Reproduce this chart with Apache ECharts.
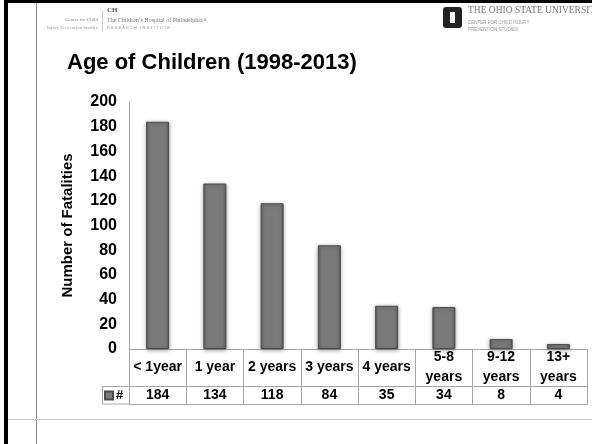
<!DOCTYPE html>
<html>
<head>
<meta charset="utf-8">
<script src="https://cdn.jsdelivr.net/npm/echarts@6/dist/echarts.min.js"></script>
<style>
html,body{margin:0;padding:0;background:#fff;}
#chart{width:592px;height:444px;}
</style>
</head>
<body>
<div id="chart"></div>
<script>
const categories = ['< 1year', '1 year', '2 years', '3 years', '4 years', '5-8\nyears', '9-12\nyears', '13+\nyears'];
const fatalities = [184, 134, 118, 84, 35, 34, 8, 4];
const seriesName = '#';
const yTicks = { min: 0, max: 200, interval: 20 };

const chart = echarts.init(document.getElementById('chart'), null, { renderer: 'canvas' });
const F = 'Arial, "Liberation Sans", sans-serif';
const lineC = '#a6a6a6';

const option = {
  backgroundColor: '#ffffff',
  animation: false,
  title: {
    text: 'Age of Children (1998-2013)',
    left: 62, top: 47,
    textStyle: { fontFamily: F, fontWeight: 'bold', fontSize: 22, color: '#000' }
  },
  legend: {
    data: [seriesName],
    left: 104, top: 389,
    icon: 'rect', itemWidth: 8, itemHeight: 8, itemGap: 2,
    padding: 0,
    textStyle: { fontFamily: F, fontWeight: 'bold', fontSize: 13, color: '#000', padding: [0, 0, 0, -2] },
    selectedMode: false
  },
  grid: { left: 129, right: 5, top: 102, bottom: 95, containLabel: false },
  xAxis: [
    {
      type: 'category', data: categories, position: 'bottom',
      axisLine: { show: true, lineStyle: { color: lineC, width: 1 } },
      axisTick: { show: true, length: 55, lineStyle: { color: lineC } },
      axisLabel: {
        fontFamily: F, fontWeight: 'bold', fontSize: 14, color: '#000',
        lineHeight: 20, verticalAlign: 'middle', margin: 18, interval: 0
      }
    },
    {
      type: 'category', data: fatalities.map(String), position: 'bottom', offset: 37,
      axisLine: { show: true, lineStyle: { color: lineC, width: 1 } },
      axisTick: { show: false },
      axisLabel: {
        fontFamily: F, fontWeight: 'bold', fontSize: 14, color: '#000',
        verticalAlign: 'middle', margin: 9, interval: 0
      }
    },
    {
      type: 'category', data: categories, position: 'bottom', offset: 55,
      axisLine: { show: true, lineStyle: { color: lineC, width: 1 } },
      axisTick: { show: false },
      axisLabel: { show: false }
    }
  ],
  yAxis: {
    type: 'value', min: yTicks.min, max: yTicks.max, interval: yTicks.interval,
    name: 'Number of Fatalities', nameLocation: 'middle', nameGap: 54, nameRotate: 90,
    nameTextStyle: { fontFamily: F, fontWeight: 'bold', fontSize: 15, color: '#000' },
    axisLine: { show: true, lineStyle: { color: lineC, width: 1 } },
    axisTick: { show: false },
    splitLine: { show: false },
    axisLabel: { fontFamily: F, fontWeight: 'bold', fontSize: 16, color: '#000', margin: 12 }
  },
  series: [{
    name: seriesName, type: 'bar', data: fatalities, barWidth: 23,
    xAxisIndex: 0,
    itemStyle: {
      color: new echarts.graphic.LinearGradient(0, 0, 1, 0, [
        { offset: 0, color: '#5f5f5f' },
        { offset: 0.15, color: '#7a7a7a' },
        { offset: 0.85, color: '#7a7a7a' },
        { offset: 1, color: '#5f5f5f' }
      ]),
      borderColor: '#4a4a4a', borderWidth: 1,
      shadowColor: 'rgba(0,0,0,0.35)', shadowBlur: 4, shadowOffsetY: 1
    }
  }],
  graphic: [
    // slide frame
    { type: 'rect', shape: { x: 4, y: 0, width: 588, height: 3 }, style: { fill: '#000' }, z: 10 },
    { type: 'rect', shape: { x: 4, y: 0, width: 4, height: 444 }, style: { fill: '#000' }, z: 10 },
    { type: 'line', shape: { x1: 36.5, y1: 3, x2: 36.5, y2: 444 }, style: { stroke: '#888', lineWidth: 1 } },
    { type: 'line', shape: { x1: 8, y1: 419.5, x2: 592, y2: 419.5 }, style: { stroke: '#d0d0d0', lineWidth: 1 } },
    // table key cell
    { type: 'rect', shape: { x: 102.5, y: 386.5, width: 27, height: 17.5 }, style: { fill: 'none', stroke: lineC, lineWidth: 1 } },
    // left header logos
    { type: 'text', style: { text: 'Center for Child', x: 98, y: 17, align: 'right', font: '5px "Liberation Serif", serif', fill: '#888' } },
    { type: 'text', style: { text: 'Injury Prevention Studies', x: 98, y: 25, align: 'right', font: '5px "Liberation Serif", serif', fill: '#999' } },
    { type: 'line', shape: { x1: 102.5, y1: 10, x2: 102.5, y2: 32 }, style: { stroke: '#ccc', lineWidth: 1 } },
    { type: 'text', style: { text: 'CH', x: 107, y: 7, font: 'bold 7px "Liberation Serif", serif', fill: '#555' } },
    { type: 'text', style: { text: 'The Children\u2019s Hospital of Philadelphia\u00ae', x: 107, y: 17, font: '6px "Liberation Serif", serif', fill: '#777' } },
    { type: 'text', style: { text: 'R E S E A R C H   I N S T I T U T E', x: 107, y: 26, font: '4px "Liberation Sans", sans-serif', fill: '#999' } },
    // right header logo
    { type: 'rect', shape: { x: 443, y: 7, width: 19, height: 21, r: 3 }, style: { fill: '#222' } },
    { type: 'rect', shape: { x: 450, y: 12, width: 5, height: 11 }, style: { fill: '#fff' } },
    { type: 'text', style: { text: 'THE OHIO STATE UNIVERSITY', x: 468, y: 5, font: '9.5px "Liberation Serif", serif', fill: '#777' } },
    { type: 'text', style: { text: 'CENTER FOR CHILD INJURY', x: 468, y: 20, font: '4.5px "Liberation Sans", sans-serif', fill: '#999' } },
    { type: 'text', style: { text: 'PREVENTION STUDIES', x: 468, y: 27, font: '4.5px "Liberation Sans", sans-serif', fill: '#999' } }
  ]
};
chart.setOption(option);
</script>
</body>
</html>
